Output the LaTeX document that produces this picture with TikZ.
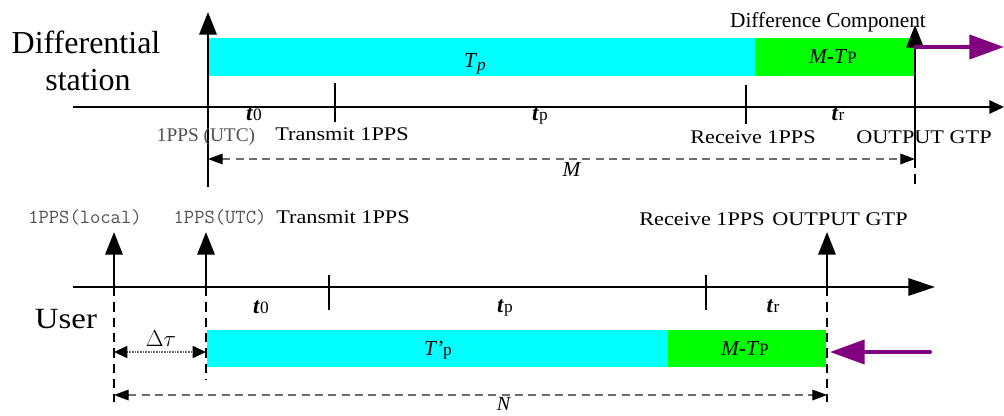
\documentclass[tikz,border=0pt]{standalone}
\usepackage{fontspec}
\setmainfont{Liberation Serif}
\usetikzlibrary{arrows.meta}

\definecolor{barcyan}{RGB}{0,255,255}
\definecolor{bargreen}{RGB}{0,255,0}
\definecolor{arrowpurple}{RGB}{128,0,128}
\definecolor{dimtext}{RGB}{80,80,80}
\definecolor{measuregray}{RGB}{110,110,110}

% italic symbol with a small upright index, as in t0, tp, tr
\newcommand{\tsym}[2]{{\fontsize{17}{17}\selectfont\textbf{\textit{#1}}}{\fontsize{13}{13}\selectfont #2}}

\begin{document}
\begin{tikzpicture}[x=0.75pt,y=-0.75pt,
  axisline/.style={line width=1.4pt,-{Triangle[length=11pt,width=10pt]}},
  axislong/.style={line width=1.4pt,-{Triangle[length=20pt,width=13pt]}},
  pulse/.style={line width=1.8pt,-{Triangle[length=17pt,width=13pt]}},
  guide/.style={line width=1.6pt,dash pattern=on 7pt off 4.5pt},
  tickline/.style={line width=1pt},
  measure/.style={line width=0.9pt,measuregray,dash pattern=on 6pt off 4pt,
    {Triangle[length=11pt,width=8pt,color=black]}-{Triangle[length=11pt,width=8pt,color=black]}},
  delta/.style={line width=1.2pt,measuregray,dash pattern=on 0.8pt off 0.4pt,
    {Triangle[length=10pt,width=9pt,color=black]}-{Triangle[length=10pt,width=9pt,color=black]}},
  purplearrow/.style={line width=3pt,arrowpurple,line cap=round,-{Triangle[length=26pt,width=18pt]}},
  title/.style={font=\fontsize{24}{26}\selectfont,anchor=base},
  label/.style={font=\fontsize{14.5}{16}\selectfont,anchor=base,inner sep=0pt,xscale=1.15,transform shape},
  utc/.style={font=\fontsize{14.5}{16}\selectfont,anchor=base,inner sep=0pt,text=dimtext},
  ppsmonolabel/.style={font=\ttfamily\fontsize{15}{16}\selectfont,anchor=base,inner sep=0pt,text=dimtext},
  sym/.style={font=\fontsize{16}{17}\selectfont,anchor=base,inner sep=0pt},
]
\useasboundingbox (0,0) rectangle (1004,415);

% ---------------- differential station ----------------
\fill[barcyan] (208,38) rectangle (755,76);
\fill[bargreen] (755,38) rectangle (914,76);
\node[sym] (tpbar) at (475,67) {\textit{T}\raisebox{-0.35ex}{\fontsize{13}{13}\selectfont\textit{p}}};
\node[sym] (mtpbar) at (833,63) {\textit{M-T}{\fontsize{13}{13}\selectfont P}};

\coordinate (axAs) at (73,107);
\coordinate (axAe) at (1004,107);
\draw[axisline] (axAs) -- (axAe);

\coordinate (utcAbot) at (208,187);
\coordinate (utcAtop) at (208,12);
\draw[pulse] (utcAbot) -- (utcAtop);

\coordinate (outAmid) at (915,159);
\coordinate (outAtop) at (915,25);
\coordinate (outAbot) at (915,187);
\draw[pulse] (outAmid) -- (outAtop);
\draw[guide] (outAmid) -- (outAbot);

\coordinate (txAt) at (335,83);
\coordinate (txAb) at (335,122);
\draw[tickline] (txAt) -- (txAb);
\coordinate (rxAt) at (746,85);
\coordinate (rxAb) at (746,124);
\draw[tickline] (rxAt) -- (rxAb);

\coordinate (diffs) at (915,47);
\coordinate (diffe) at (1004,47);
\draw[purplearrow] (diffs) -- (diffe);

\draw[measure] (utcAbot |- outAmid) -- (outAmid);

\node[title] (station1) at (86,53) {Differential};
\node[title] (station2) at (88,90) {station};
\node[font=\fontsize{16}{18}\selectfont,anchor=base,inner sep=0pt] (diffcomp) at (828,27) {Difference Component};

\node[sym] (t0A) at (254,120) {\tsym{t}{0}};
\node[sym] (tpA) at (540,120) {\tsym{t}{p}};
\node[sym] (trA) at (838,120) {\tsym{t}{r}};

\node[utc] (utcA) at (206,141) {1PPS (UTC)};
\node[label] (txA) at (342,140) {Transmit 1PPS};
\node[label] (rxA) at (753,143) {Receive 1PPS};
\node[label] (outA) at (924,143) {OUTPUT GTP};
\node[sym] (Mlab) at (572,176) {\textit{M}};

% ---------------- user ----------------
\fill[barcyan] (207,330) rectangle (668,367);
\fill[bargreen] (668,330) rectangle (826,367);
\node[sym] (tpprime) at (438,355) {\textit{T'}{\fontsize{13}{13}\selectfont p}};
\node[sym] (mtpB) at (745,355) {\textit{M-T}{\fontsize{13}{13}\selectfont P}};

\coordinate (axBs) at (73,287);
\coordinate (axBe) at (935,287);
\draw[axislong] (axBs) -- (axBe);

\coordinate (locB) at (114,287);
\coordinate (locBtop) at (114,232);
\coordinate (locBbot) at (114,402);
\draw[pulse] (locB) -- (locBtop);
\draw[guide] (locB) -- (locBbot);

\coordinate (utcB) at (206,287);
\coordinate (utcBtop) at (206,232);
\coordinate (utcBbot) at (206,380);
\draw[pulse] (utcB) -- (utcBtop);
\draw[guide] (utcB) -- (utcBbot);

\coordinate (outB) at (827,287);
\coordinate (outBtop) at (827,232);
\coordinate (outBbot) at (827,402);
\draw[pulse] (outB) -- (outBtop);
\draw[guide] (outB) -- (outBbot);

\coordinate (txBt) at (329,275);
\coordinate (txBb) at (329,310);
\draw[tickline] (txBt) -- (txBb);
\coordinate (rxBt) at (706,275);
\coordinate (rxBb) at (706,310);
\draw[tickline] (rxBt) -- (rxBb);

\coordinate (corrs) at (930,352);
\coordinate (corre) at (830,352);
\draw[purplearrow] (corrs) -- (corre);

\coordinate (dtl) at (114,352);
\coordinate (dtr) at (206,352);
\draw[delta] (dtl) -- (dtr);
\node[sym] (dtau) at (161,346) {$\Delta\tau$};
\coordinate (nl) at (114,395);
\coordinate (nr) at (827,395);
\draw[measure] (nl) -- (nr);
\node[sym,font=\fontsize{15}{16}\selectfont] (Nlab) at (504,410) {\textit{N}};

\node[title,font=\fontsize{22}{24}\selectfont,xscale=1.12,transform shape] (user) at (66,328) {User};

\node[sym] (t0B) at (261,313) {\tsym{t}{0}};
\node[sym] (tpB) at (505,312) {\tsym{t}{p}};
\node[sym] (trB) at (773,312) {\tsym{t}{r}};

\node[ppsmonolabel] (localB) at (85,223) {1PPS(local)};
\node[ppsmonolabel] (utcBl) at (220,223) {1PPS(UTC)};
\node[label] (txB) at (343,223) {Transmit 1PPS};
\node[label] (rxB) at (702,225) {Receive 1PPS};
\node[label] (outBl) at (840,225) {OUTPUT GTP};
\end{tikzpicture}
\end{document}
